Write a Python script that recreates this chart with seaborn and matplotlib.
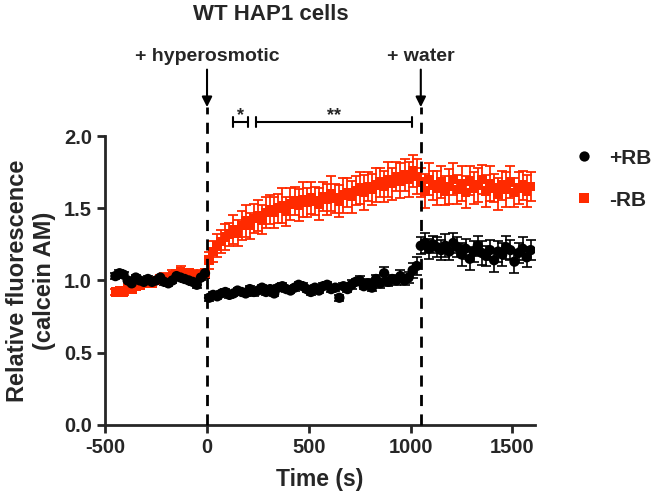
import matplotlib
matplotlib.use('Agg')
import matplotlib.pyplot as plt
import seaborn as sns
import pandas as pd

# time points (s)
time = [-450, -430, -410, -390, -370, -350, -330, -310, -290, -270, -250, -230,
        -210, -190, -170, -150, -130, -110, -90, -70, -50, -30, -10,
        10, 30, 50, 70, 90, 110, 130, 150, 170, 190, 210, 230, 250, 270, 290,
        310, 330, 350, 370, 390, 410, 430, 450, 470, 490, 510, 530, 550, 570,
        590, 610, 630, 650, 670, 690, 710, 730, 750, 770, 790, 810, 830, 850,
        870, 890, 910, 930, 950, 970, 990, 1010, 1030,
        1050, 1070, 1090, 1110, 1130, 1150, 1170, 1190, 1210, 1230, 1250, 1270,
        1290, 1310, 1330, 1350, 1370, 1390, 1410, 1430, 1450, 1470, 1490, 1510,
        1530, 1550, 1570, 1590]

plus_rb = [1.03, 1.05, 1.04, 1.00, 0.98, 1.02, 1.00, 0.99, 1.01, 0.99, 1.00, 1.02,
           0.99, 0.98, 1.00, 1.03, 1.02, 1.01, 1.00, 0.99, 0.97, 1.02, 1.05,
           0.88, 0.90, 0.89, 0.91, 0.92, 0.90, 0.91, 0.93, 0.92, 0.91, 0.94, 0.92,
           0.93, 0.95, 0.92, 0.94, 0.91, 0.95, 0.96, 0.94, 0.93, 0.95, 0.97, 0.96,
           0.94, 0.92, 0.95, 0.93, 0.96, 0.97, 0.94, 0.95, 0.88, 0.96, 0.94, 0.97,
           0.99, 1.00, 0.96, 0.98, 0.95, 1.01, 0.98, 1.05, 0.99, 1.01, 1.00, 1.03,
           1.00, 1.02, 1.07, 1.10,
           1.24, 1.26, 1.22, 1.25, 1.23, 1.21, 1.24, 1.20, 1.26, 1.23, 1.18, 1.22,
           1.15, 1.20, 1.24, 1.19, 1.17, 1.21, 1.14, 1.20, 1.18, 1.23, 1.21, 1.13,
           1.19, 1.22, 1.16, 1.21]
plus_rb_err = [0.02, 0.02, 0.02, 0.02, 0.02, 0.02, 0.02, 0.02, 0.02, 0.02, 0.02, 0.02,
               0.02, 0.02, 0.02, 0.02, 0.02, 0.02, 0.02, 0.02, 0.02, 0.02, 0.03,
               0.02, 0.02, 0.02, 0.02, 0.02, 0.02, 0.02, 0.02, 0.02, 0.02, 0.02, 0.03,
               0.02, 0.02, 0.02, 0.02, 0.02, 0.02, 0.02, 0.02, 0.02, 0.02, 0.02, 0.02,
               0.02, 0.02, 0.02, 0.02, 0.02, 0.02, 0.02, 0.02, 0.02, 0.02, 0.02, 0.03,
               0.02, 0.03, 0.02, 0.03, 0.02, 0.03, 0.03, 0.04, 0.03, 0.03, 0.03, 0.04,
               0.03, 0.04, 0.05, 0.06,
               0.06, 0.07, 0.07, 0.06, 0.07, 0.07, 0.08, 0.06, 0.07, 0.07, 0.08, 0.07,
               0.08, 0.07, 0.07, 0.08, 0.07, 0.07, 0.08, 0.07, 0.08, 0.08, 0.07, 0.08,
               0.07, 0.08, 0.07, 0.07]

minus_rb = [0.92, 0.93, 0.92, 0.95, 0.94, 0.96, 0.97, 0.98, 0.99, 0.98, 1.00, 1.01,
            1.02, 1.00, 1.03, 1.04, 1.06, 1.02, 1.05, 1.04, 1.03, 1.04, 1.05,
            1.14, 1.20, 1.24, 1.27, 1.30, 1.32, 1.35, 1.33, 1.38, 1.41, 1.38, 1.43,
            1.45, 1.42, 1.47, 1.49, 1.47, 1.50, 1.52, 1.48, 1.53, 1.55, 1.52, 1.56,
            1.54, 1.57, 1.55, 1.53, 1.58, 1.56, 1.60, 1.57, 1.55, 1.59, 1.61, 1.58,
            1.62, 1.64, 1.61, 1.65, 1.63, 1.66, 1.68, 1.65, 1.70, 1.67, 1.72, 1.69,
            1.73, 1.70, 1.76, 1.72,
            1.68, 1.62, 1.70, 1.66, 1.64, 1.68, 1.62, 1.65, 1.70, 1.63, 1.67, 1.61,
            1.69, 1.64, 1.66, 1.70, 1.62, 1.67, 1.64, 1.60, 1.66, 1.63, 1.68, 1.61,
            1.64, 1.66, 1.62, 1.65]
minus_rb_err = [0.02, 0.02, 0.02, 0.02, 0.02, 0.02, 0.02, 0.02, 0.02, 0.02, 0.02, 0.03,
                0.03, 0.03, 0.04, 0.03, 0.04, 0.03, 0.03, 0.03, 0.02, 0.03, 0.03,
                0.06, 0.07, 0.08, 0.08, 0.09, 0.08, 0.10, 0.09, 0.10, 0.11, 0.09, 0.10,
                0.11, 0.10, 0.11, 0.10, 0.11, 0.10, 0.12, 0.10, 0.11, 0.10, 0.11, 0.12,
                0.10, 0.11, 0.10, 0.11, 0.10, 0.11, 0.12, 0.10, 0.11, 0.12, 0.10, 0.11,
                0.10, 0.11, 0.12, 0.10, 0.11, 0.12, 0.10, 0.11, 0.12, 0.11, 0.10, 0.12,
                0.11, 0.12, 0.11, 0.12,
                0.10, 0.12, 0.11, 0.10, 0.12, 0.11, 0.10, 0.12, 0.11, 0.10, 0.12, 0.11,
                0.10, 0.11, 0.12, 0.10, 0.11, 0.12, 0.10, 0.11, 0.10, 0.12, 0.11, 0.10,
                0.11, 0.10, 0.11, 0.10]

red = '#ff2a00'

sns.set_style('ticks')
plt.rcParams['font.family'] = ['Liberation Sans', 'DejaVu Sans']
plt.rcParams['font.weight'] = 'bold'
plt.rcParams['axes.labelweight'] = 'bold'
plt.rcParams['axes.unicode_minus'] = False

df = pd.concat([
    pd.DataFrame({'time': time, 'value': minus_rb, 'group': '-RB'}),
    pd.DataFrame({'time': time, 'value': plus_rb, 'group': '+RB'}),
])

fig = plt.figure(figsize=(6.66, 5.01), dpi=100)
ax = fig.add_axes([0.158, 0.152, 0.645, 0.5765])

ax.errorbar(time, minus_rb, yerr=minus_rb_err, fmt='none', ecolor=red,
            elinewidth=1.3, capsize=3.6, capthick=1.3, zorder=1)
ax.errorbar(time, plus_rb, yerr=plus_rb_err, fmt='none', ecolor='black',
            elinewidth=1.2, capsize=3.6, capthick=1.2, zorder=2)
sns.scatterplot(data=df, x='time', y='value', hue='group', style='group',
                size='group', sizes={'+RB': 55, '-RB': 48},
                hue_order=['+RB', '-RB'], style_order=['+RB', '-RB'],
                size_order=['+RB', '-RB'],
                palette={'+RB': 'black', '-RB': red},
                markers={'+RB': 'o', '-RB': 's'}, linewidth=0,
                ax=ax, zorder=3)

ax.set_xlim(-500, 1610)
ax.set_ylim(0, 2.0)
ax.set_xticks([-500, 0, 500, 1000, 1500])
ax.set_yticks([0.0, 0.5, 1.0, 1.5, 2.0])
ax.set_yticklabels(['0.0', '0.5', '1.0', '1.5', '2.0'])
ax.tick_params(width=2, length=6, labelsize=14.5)
for s in ['left', 'bottom']:
    ax.spines[s].set_linewidth(2)
sns.despine(ax=ax)

ax.set_xlabel('Time (s)', fontsize=16.5, labelpad=8)
ax.set_ylabel('Relative fluorescence\n(calcein AM)', fontsize=17, labelpad=6)

# treatment markers
for x0, lab in [(0, '+ hyperosmotic'), (1050, '+ water')]:
    ax.plot([x0, x0], [0, 2.2], ls=(0, (4, 3)), color='black', lw=2,
            clip_on=False, zorder=4)
    ax.annotate('', xy=(x0, 2.2), xytext=(x0, 2.46),
                arrowprops=dict(arrowstyle='-|>', color='black', lw=1.5,
                                mutation_scale=15, shrinkA=0, shrinkB=0),
                annotation_clip=False)
    ax.text(x0, 2.55, lab, ha='center', va='center', fontsize=14,
            fontweight='bold')

# significance brackets
for x1, x2, star in [(128, 200, '*'), (240, 1007, '**')]:
    ax.plot([x1, x2], [2.097, 2.097], color='black', lw=1.5, clip_on=False)
    for xx in (x1, x2):
        ax.plot([xx, xx], [2.062, 2.132], color='black', lw=1.5, clip_on=False)
    ax.text((x1 + x2) / 2, 2.14, star, ha='center', va='center', fontsize=13)

leg = ax.legend(frameon=False, loc='upper left', bbox_to_anchor=(1.072, 0.985),
                borderaxespad=0, fontsize=15, handlelength=1.0,
                handletextpad=0.7, labelspacing=1.1, markerscale=1.0)

fig.text(0.407, 0.972, 'WT HAP1 cells', ha='center', va='center',
         fontsize=16, fontweight='bold')

fig.savefig('out.png', dpi=100)
